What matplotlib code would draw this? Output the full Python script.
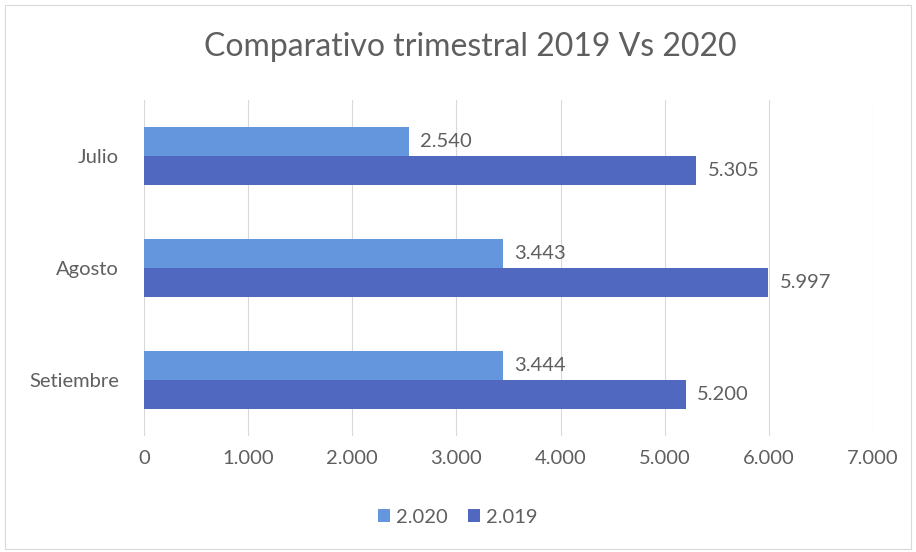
import matplotlib
matplotlib.use("Agg")
import matplotlib.pyplot as plt
import numpy as np
from matplotlib.patches import Rectangle

categories = ["Julio", "Agosto", "Setiembre"]
series_2020 = [2540, 3443, 3444]
series_2019 = [5305, 5997, 5200]
series_names = ["2.020", "2.019"]
xticks = [0, 1000, 2000, 3000, 4000, 5000, 6000, 7000]

def fmt(v):
    return f"{v:,}".replace(",", ".")

plt.rcParams['font.family'] = ['Lato', 'DejaVu Sans']
text_color = "#5f5f5f"
c2020 = "#6396dc"
c2019 = "#5068c0"

fig = plt.figure(figsize=(9.16, 5.52), dpi=100)
fig.patch.set_facecolor("white")
fig.patches.append(Rectangle((0.006, 0.006), 0.988, 0.985, transform=fig.transFigure,
                             fill=False, edgecolor="#d9d9d9", linewidth=0.8))
ax = fig.add_axes([0.1572, 0.2101, 0.7958, 0.6087])

y = np.arange(len(categories))
h = 0.26
b1 = ax.barh(y - h/2, series_2020, height=h, color=c2020, label=series_names[0])
b2 = ax.barh(y + h/2, series_2019, height=h, color=c2019, label=series_names[1])

for bars, vals in ((b1, series_2020), (b2, series_2019)):
    for rect, v in zip(bars, vals):
        ax.text(v + 110, rect.get_y() + rect.get_height()/2, fmt(v), va="center", ha="left",
                fontsize=14.5, color=text_color)

ax.set_xlim(0, 7000)
ax.set_ylim(len(categories) - 0.5, -0.5)
ax.set_yticks(y)
ax.set_yticklabels(categories, fontsize=14.5, color=text_color)
ax.set_xticks(xticks)
ax.set_xticklabels([fmt(t) for t in xticks], fontsize=14.5, color=text_color)
ax.tick_params(length=0, pad=10)
ax.tick_params(axis="y", pad=18)
ax.grid(axis="x", color="#d9d9d9", linewidth=0.8)
ax.set_axisbelow(True)
for s in ax.spines.values():
    s.set_visible(False)

fig.text(0.513, 0.915, "Comparativo trimestral 2019 Vs 2020", ha="center", va="center",
         fontsize=23, color=text_color)

fig.legend(handles=[b1, b2], labels=series_names, loc="center", bbox_to_anchor=(0.5, 0.063),
           ncol=2, frameon=False, prop={"size": 14.5}, labelcolor=text_color,
           handlelength=0.6, handleheight=0.6, handletextpad=0.3, columnspacing=1.0)

fig.savefig("out.png", dpi=100, facecolor="white")
